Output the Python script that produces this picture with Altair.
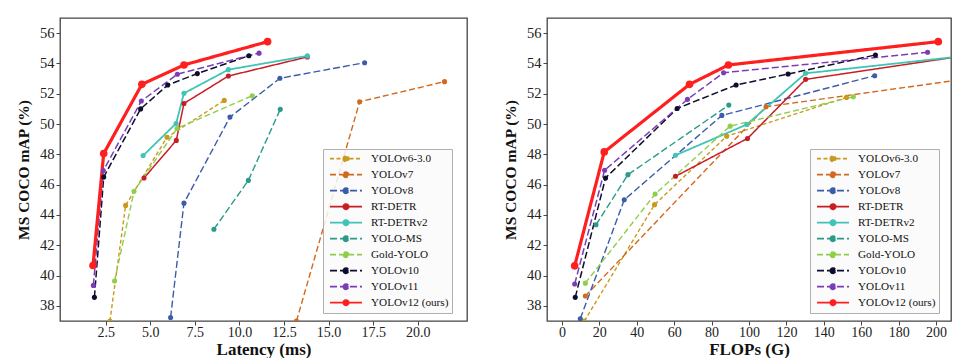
import altair as alt
import pandas as pd

SERIES = ["YOLOv6-3.0", "YOLOv7", "YOLOv8", "RT-DETR", "RT-DETRv2",
          "YOLO-MS", "Gold-YOLO", "YOLOv10", "YOLOv11", "YOLOv12 (ours)"]
COLORS = ["#c99a1e", "#d2691e", "#3b5ca8", "#c81d25", "#40c4b6",
          "#2b9a8a", "#8fce4a", "#0d0d2e", "#7a3db8", "#ff1f1f"]
DASHES = [[4, 2.5], [6, 3], [7, 3], [1, 0], [1, 0],
          [7, 3], [6, 3], [7, 3], [7, 3], [1, 0]]
WIDTHS = [1.4, 1.4, 1.4, 1.5, 1.8, 1.4, 1.4, 1.5, 1.5, 3.2]
SIZES = [26, 26, 26, 26, 26, 26, 26, 26, 26, 58]

# Latency (ms) panel
LAT_X = {
    "YOLOv6-3.0": [2.74, 3.62, 5.94, 9.15],
    "YOLOv7": [13.2, 16.74, 21.5],
    "YOLOv8": [6.14, 6.89, 9.47, 12.27, 17.02],
    "RT-DETR": [4.65, 6.46, 6.89, 9.38, 13.81],
    "RT-DETRv2": [4.6, 6.45, 6.89, 9.38, 13.81],
    "YOLO-MS": [8.57, 10.5, 12.29],
    "Gold-YOLO": [3.0, 4.09, 6.5, 10.72],
    "YOLOv10": [1.87, 2.39, 4.46, 5.98, 7.64, 10.53],
    "YOLOv11": [1.81, 2.37, 4.5, 6.52, 11.1],
    "YOLOv12 (ours)": [1.79, 2.39, 4.53, 6.89, 11.58],
}
LAT_Y = {
    "YOLOv6-3.0": [37.0, 44.63, 49.13, 51.56],
    "YOLOv7": [37.0, 51.47, 52.8],
    "YOLOv8": [37.23, 44.78, 50.46, 53.02, 54.05],
    "RT-DETR": [46.44, 48.92, 51.36, 53.17, 54.43],
    "RT-DETRv2": [47.92, 50.04, 52.03, 53.59, 54.5],
    "YOLO-MS": [43.06, 46.28, 50.97],
    "Gold-YOLO": [39.64, 45.56, 49.71, 51.87],
    "YOLOv10": [38.56, 46.5, 51.0, 52.58, 53.33, 54.51],
    "YOLOv11": [39.35, 46.93, 51.52, 53.29, 54.68],
    "YOLOv12 (ours)": [40.66, 48.05, 52.62, 53.9, 55.44],
}

# FLOPs (G) panel
FLOP_X = {
    "YOLOv6-3.0": [12.0, 49.5, 88.1, 152.1],
    "YOLOv7": [12.5, 109.1, 215.0],
    "YOLOv8": [9.8, 33.3, 85.5, 167.2],
    "RT-DETR": [60.7, 99.2, 130.3, 212.0],
    "RT-DETRv2": [60.7, 98.8, 130.3, 212.0],
    "YOLO-MS": [18.2, 35.3, 89.2],
    "Gold-YOLO": [12.5, 49.8, 89.9, 155.8],
    "YOLOv10": [7.1, 23.3, 61.6, 93.1, 120.9, 167.6],
    "YOLOv11": [6.8, 22.8, 67.1, 86.4, 195.5],
    "YOLOv12 (ours)": [6.8, 22.6, 68.2, 89.0, 201.2],
}
FLOP_Y = {
    "YOLOv6-3.0": [37.0, 44.68, 49.2, 51.76],
    "YOLOv7": [38.65, 51.14, 52.96],
    "YOLOv8": [37.15, 45.0, 50.57, 53.19],
    "RT-DETR": [46.55, 49.05, 52.95, 54.45],
    "RT-DETRv2": [47.94, 49.97, 53.35, 54.45],
    "YOLO-MS": [43.35, 46.66, 51.25],
    "Gold-YOLO": [39.5, 45.38, 49.86, 51.8],
    "YOLOv10": [38.56, 46.44, 51.03, 52.58, 53.3, 54.56],
    "YOLOv11": [39.44, 46.95, 51.63, 53.39, 54.74],
    "YOLOv12 (ours)": [40.64, 48.16, 52.62, 53.9, 55.44],
}

Y_TICKS = [38, 40, 42, 44, 46, 48, 50, 52, 54, 56]
LAT_TICKS = [2.5, 5.0, 7.5, 10.0, 12.5, 15.0, 17.5, 20.0]
FLOP_TICKS = [0, 20, 40, 60, 80, 100, 120, 140, 160, 180, 200]

FONT = "Liberation Serif"
LEGEND_PATH = ("M-1,0L1,0M-0.17,0A0.17,0.17,0,1,0,0.17,0"
               "A0.17,0.17,0,1,0,-0.17,0Z")


def table(xs, ys):
    rows = []
    for s, lw, ms in zip(SERIES, WIDTHS, SIZES):
        for a, b in zip(xs[s], ys[s]):
            rows.append({"model": s, "x": a, "y": b, "lw": lw, "ms": ms})
    return pd.DataFrame(rows)


def make_legend():
    return alt.Legend(
        title=None, orient="none", legendX=263, legendY=131,
        symbolType=LEGEND_PATH, symbolSize=1024, clipHeight=13.3,
        rowPadding=2, padding=3, symbolOffset=3, labelOffset=8,
        symbolStrokeWidth=1.6,
        labelFont=FONT, labelFontSize=11.2, labelColor="#111",
        labelLimit=300, fillColor="rgba(250,250,250,0.85)",
        strokeColor="#b0b0b0", cornerRadius=0,
    )


def panel(df, xtitle, domain, ticks, fmt, width):
    leg = make_legend()
    x = alt.X("x:Q", scale=alt.Scale(domain=domain, nice=False, zero=False),
              axis=alt.Axis(values=ticks, format=fmt, title=xtitle,
                            labelPadding=0, titlePadding=2,
                            labelFontSize=14, titleFontSize=17))
    y = alt.Y("y:Q", scale=alt.Scale(domain=[37, 57], nice=False, zero=False),
              axis=alt.Axis(values=Y_TICKS, title="MS COCO mAP (%)",
                            labelPadding=2, titlePadding=8,
                            labelFontSize=14.5, titleFontSize=15.5))
    base = alt.Chart(df)
    lines = base.mark_line(clip=True).encode(
        x=x, y=y,
        stroke=alt.Stroke("model:N", scale=alt.Scale(domain=SERIES, range=COLORS), legend=leg),
        strokeDash=alt.StrokeDash("model:N", scale=alt.Scale(domain=SERIES, range=DASHES), legend=leg),
        strokeWidth=alt.StrokeWidth("lw:Q", scale=None, legend=None),
    )
    points = base.mark_point(filled=True, clip=True, opacity=1).encode(
        x=x, y=y,
        fill=alt.Fill("model:N", scale=alt.Scale(domain=SERIES, range=COLORS), legend=leg),
        size=alt.Size("ms:Q", scale=None, legend=None),
    )
    return alt.layer(lines, points).properties(width=width, height=303)


left = panel(table(LAT_X, LAT_Y), "Latency (ms)", [-0.06, 22.76], LAT_TICKS, ".1f", 407)
right = panel(table(FLOP_X, FLOP_Y), "FLOPs (G)", [-8, 208], FLOP_TICKS, "d", 404)

chart = alt.hconcat(left, right, spacing=34).resolve_scale(
    stroke="independent", strokeDash="independent", fill="independent",
).properties(
    padding={"left": 7, "top": 9, "right": 5, "bottom": 0},
    background="white",
).configure_view(
    stroke="#444", strokeWidth=1.3,
).configure_axis(
    grid=False, domain=False, ticks=True, tickSize=4, tickColor="#444",
    tickWidth=1, labelFont=FONT, labelColor="#222",
    titleFont=FONT, titleFontWeight="bold", titleColor="#111",
)

chart.save("out.html", embed_options={"renderer": "svg", "actions": False})
